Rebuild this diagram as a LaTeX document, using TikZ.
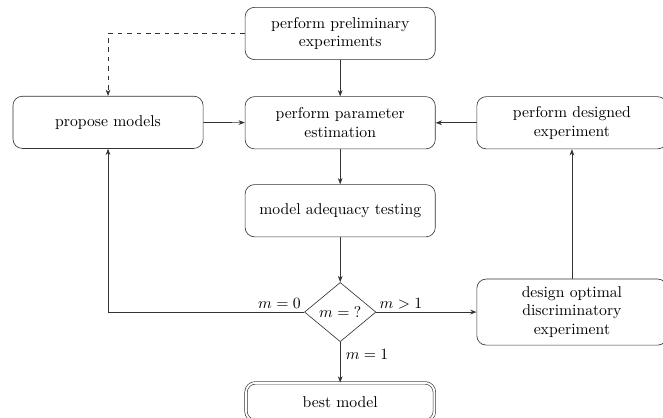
\documentclass[tikz,border=0pt]{standalone}
\usetikzlibrary{shapes.geometric,arrows.meta}

\begin{document}
\begin{tikzpicture}[thin, >={Stealth[length=4pt,width=3pt]},
    box/.style={draw=black!80, rounded corners=6pt, minimum width=4.26cm, minimum height=1.17cm, align=center},
    test/.style={draw=black!80, diamond, aspect=1, minimum width=1.6cm, inner sep=1pt},
    final/.style={draw=black!80, double, double distance=1.2pt, rounded corners=6pt, minimum width=4.22cm, minimum height=0.85cm},
    link/.style={->, draw=black!80}]
    \useasboundingbox (0,0) rectangle (14.85,9.36);
    \pgfmathsetmacro\xl{2.42}
    \pgfmathsetmacro\xm{7.62}
    \pgfmathsetmacro\xr{12.81}
    \node[box] (prelim) at (\xm,8.61) {perform preliminary\\experiments};
    \node[box] (estim) at (\xm,6.61) {perform parameter\\estimation};
    \node[box] (propose) at (\xl,6.62) {propose models};
    \node[box] (designed) at (\xr,6.61) {perform designed\\experiment};
    \node[box] (adequacy) at (\xm,4.64) {model adequacy testing};
    \node[test] (test) at (\xm,2.37) {$m={?}$};
    \node[box, minimum height=1.48cm] (optimal) at (\xr,2.37) {design optimal\\discriminatory\\experiment};
    \node[final] (best) at (\xm,0.36) {best model};
    % connectors
    \draw[link] (prelim) -- (estim);
    \draw[link, dashed] (prelim.west) -| (propose.north);
    \draw[link] (propose) -- (estim);
    \draw[link] (designed) -- (estim);
    \draw[link] (estim) -- (adequacy);
    \draw[link] (adequacy) -- (test);
    \draw[link] (test.west) node[above left, inner sep=2pt] {$m=0$} -| (propose.south);
    \draw[link] (test.east) node[above right, inner sep=2pt] {$m>1$} -- (optimal);
    \draw[link] (test.south) -- node[pos=0.3, right] {$m=1$} (best);
    \draw[link] (optimal) -- (designed);
\end{tikzpicture}
\end{document}
